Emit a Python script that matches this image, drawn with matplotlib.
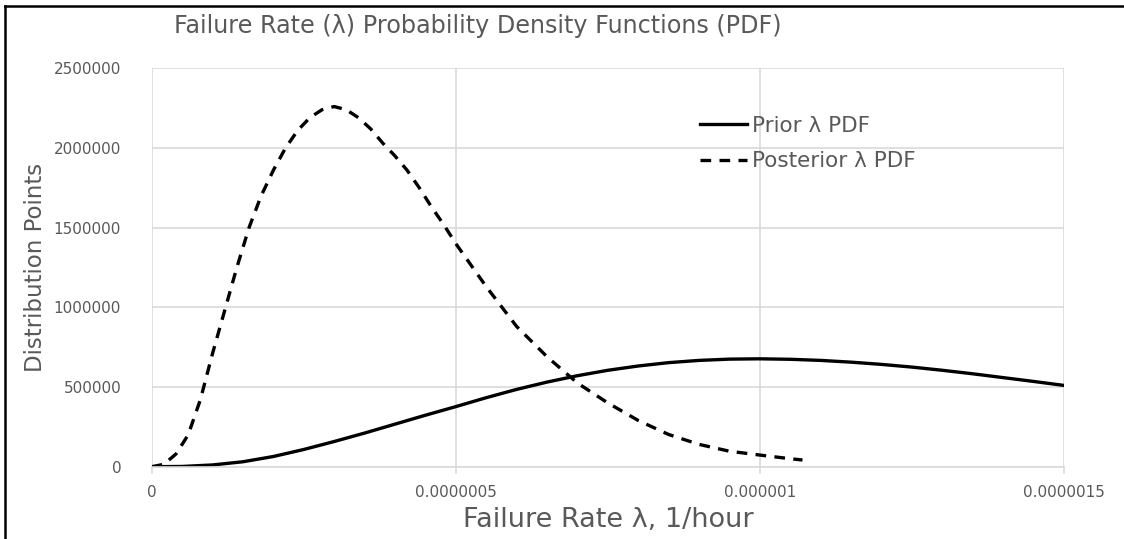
import numpy as np
import matplotlib
matplotlib.use("Agg")
import matplotlib.pyplot as plt
from matplotlib.lines import Line2D

plt.rcParams['font.family'] = ['DejaVu Sans']

# datos (lambda en 1/hora)
lam_prior = [0, 0.05e-6, 0.10e-6, 0.15e-6, 0.20e-6, 0.25e-6, 0.30e-6, 0.35e-6,
             0.40e-6, 0.45e-6, 0.50e-6, 0.55e-6, 0.60e-6, 0.65e-6, 0.70e-6,
             0.75e-6, 0.80e-6, 0.85e-6, 0.90e-6, 0.95e-6, 1.00e-6, 1.05e-6,
             1.10e-6, 1.15e-6, 1.20e-6, 1.25e-6, 1.30e-6, 1.35e-6, 1.40e-6,
             1.45e-6, 1.50e-6]
pdf_prior = [0, 1500, 11000, 31000, 64000, 108000, 158000, 211000,
             267000, 323000, 377000, 433000, 485000, 531000, 571000,
             605000, 632000, 653000, 667000, 675000, 677000, 674000,
             667000, 656000, 642000, 625000, 605000, 583000, 559000,
             535000, 510000]

lam_post = [0, 0.02e-6, 0.04e-6, 0.06e-6, 0.08e-6, 0.10e-6, 0.12e-6, 0.14e-6,
            0.16e-6, 0.18e-6, 0.20e-6, 0.22e-6, 0.24e-6, 0.26e-6, 0.28e-6,
            0.30e-6, 0.32e-6, 0.34e-6, 0.36e-6, 0.38e-6, 0.40e-6, 0.42e-6,
            0.44e-6, 0.46e-6, 0.48e-6, 0.50e-6, 0.55e-6, 0.60e-6, 0.65e-6,
            0.70e-6, 0.75e-6, 0.80e-6, 0.85e-6, 0.90e-6, 0.95e-6, 1.00e-6,
            1.05e-6, 1.07e-6]
pdf_post = [0, 15000, 80000, 200000, 420000, 710000, 980000, 1250000,
            1500000, 1700000, 1860000, 2000000, 2110000, 2190000, 2240000,
            2260000, 2240000, 2190000, 2120000, 2030000, 1950000, 1860000,
            1750000, 1630000, 1520000, 1400000, 1130000, 880000, 690000,
            525000, 400000, 290000, 202000, 140000, 97000, 73000,
            50000, 42000]

xticks = [0, 0.5e-6, 1e-6, 1.5e-6]
xtick_labels = ['0', '0.0000005', '0.000001', '0.0000015']
yticks = [0, 500000, 1000000, 1500000, 2000000, 2500000]

gris = '#595959'
grilla = '#d9d9d9'

fig = plt.figure(figsize=(11.24, 5.39), dpi=100)
ax = fig.add_axes([151.7 / 1124, 1 - 466.7 / 539, (1064 - 151.7) / 1124, (466.7 - 68.3) / 539])

ax.plot(lam_prior, pdf_prior, color='black', lw=2.4, label='Prior λ PDF')
ax.plot(lam_post, pdf_post, color='black', lw=2.4, dashes=(3.2, 2.5), label='Posterior λ PDF')

ax.set_xlim(0, 1.5e-6)
ax.set_ylim(0, 2500000)
ax.set_xticks(xticks)
ax.set_xticklabels(xtick_labels)
ax.set_yticks(yticks)
ax.set_yticklabels([str(v) for v in yticks])
ax.grid(True, color=grilla, lw=1.2)
ax.set_axisbelow(True)
for s in ['top', 'right', 'left']:
    ax.spines[s].set_visible(False)
ax.spines['bottom'].set_color(grilla)
ax.spines['bottom'].set_linewidth(1.2)
ax.tick_params(axis='x', colors=grilla, length=5, width=1.2, pad=8, labelcolor=gris, labelsize=11)
ax.tick_params(axis='y', length=0, pad=22, labelcolor=gris, labelsize=11)

ax.set_xlabel('Failure Rate λ, 1/hour', color=gris, fontsize=19.5, labelpad=5)
ax.set_ylabel('Distribution Points', color=gris, fontsize=16.5, labelpad=5)
fig.text(478 / 1124, 1 - 26 / 539, 'Failure Rate (λ) Probability Density Functions (PDF)',
         color=gris, fontsize=17.2, ha='center', va='center')

ax.legend(loc='upper left', bbox_to_anchor=(700 / 1124, 1 - 116 / 539),
          bbox_transform=fig.transFigure, frameon=False, fontsize=15.5,
          handlelength=2.2, handletextpad=0.2, labelspacing=0.7,
          borderpad=0, borderaxespad=0, labelcolor=gris)

# marco negro (solo arriba e izquierda, como en la imagen)
fig.add_artist(Line2D([5 / 1124, 1], [1 - 6 / 539, 1 - 6 / 539], color='black', lw=1.8,
                      transform=fig.transFigure))
fig.add_artist(Line2D([5 / 1124, 5 / 1124], [0, 1 - 6 / 539], color='black', lw=1.8,
                      transform=fig.transFigure))

fig.savefig('out.png', dpi=100)
